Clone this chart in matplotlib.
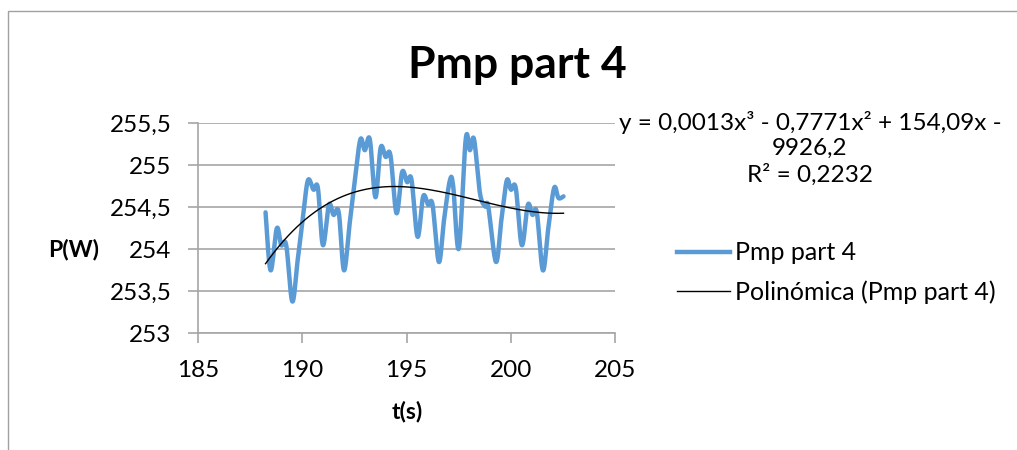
import numpy as np
import matplotlib.pyplot as plt
from matplotlib.patches import Rectangle
from matplotlib.lines import Line2D
from matplotlib.ticker import FuncFormatter

plt.rcParams['font.family'] = ['Lato', 'DejaVu Sans']

# data
t = [188.24, 188.48, 188.78, 188.99, 189.23, 189.52, 189.77, 190.02, 190.27,
     190.54, 190.75, 190.99, 191.28, 191.5, 191.75, 192.0, 192.27, 192.53,
     192.79, 193.0, 193.24, 193.51, 193.76, 194.0, 194.23, 194.52, 194.79,
     195.03, 195.24, 195.53, 195.8, 196.04, 196.25, 196.55, 196.8, 197.08,
     197.24, 197.51, 197.84, 198.04, 198.24, 198.52, 198.77, 198.92, 199.29,
     199.55, 199.81, 200.01, 200.24, 200.53, 200.82, 201.04, 201.25, 201.54,
     201.8, 202.08, 202.29, 202.53]
p = [254.44, 253.75, 254.25, 254.05, 254.05, 253.38, 253.85, 254.35, 254.82,
     254.71, 254.73, 254.05, 254.53, 254.41, 254.44, 253.75, 254.3, 254.85,
     255.31, 255.18, 255.31, 254.62, 255.21, 255.10, 255.12, 254.43, 254.92,
     254.80, 254.83, 254.15, 254.63, 254.53, 254.53, 253.85, 254.35, 254.82,
     254.75, 254.01, 255.31, 255.18, 255.31, 254.67, 254.51, 254.51, 253.85,
     254.35, 254.82, 254.71, 254.73, 254.05, 254.53, 254.41, 254.44, 253.75,
     254.25, 254.73, 254.61, 254.63]

series_name = 'Pmp part 4'
trend_name = 'Polinómica (Pmp part 4)'
eq_text = 'y = 0,0013x³ - 0,7771x² + 154,09x -\n9926,2\nR² = 0,2232'


def smooth(x, y, n=20):
    # Excel-style smoothed line (Catmull-Rom Bezier)
    x = np.asarray(x); y = np.asarray(y)
    xp = np.concatenate([[x[0]], x, [x[-1]]])
    yp = np.concatenate([[y[0]], y, [y[-1]]])
    s = np.linspace(0, 1, n)[:, None]
    xs, ys = [], []
    for i in range(1, len(xp) - 2):
        p0 = np.array([xp[i], yp[i]]); p3 = np.array([xp[i + 1], yp[i + 1]])
        p1 = p0 + (np.array([xp[i + 1], yp[i + 1]]) - np.array([xp[i - 1], yp[i - 1]])) / 6
        p2 = p3 - (np.array([xp[i + 2], yp[i + 2]]) - np.array([xp[i], yp[i]])) / 6
        b = (1 - s) ** 3 * p0 + 3 * (1 - s) ** 2 * s * p1 + 3 * (1 - s) * s ** 2 * p2 + s ** 3 * p3
        xs.append(b[:, 0]); ys.append(b[:, 1])
    return np.concatenate(xs), np.concatenate(ys)


fig = plt.figure(figsize=(10.17, 4.5), dpi=100)
fig.patches.append(Rectangle((8 / 1017, -0.1), 1.2, 1 - 11 / 450 + 0.1,
                             transform=fig.transFigure, fill=False,
                             edgecolor='#a0a0a0', lw=1))

ax = fig.add_axes([198 / 1017, 1 - 333.3 / 450, 417 / 1017, 210 / 450])
ax.set_xlim(185, 205)
ax.set_ylim(253, 255.5)
ax.set_xticks(np.arange(185, 206, 5))
ax.set_yticks(np.arange(253, 255.51, 0.5))
ax.yaxis.set_major_formatter(FuncFormatter(lambda v, _: ('%g' % v).replace('.', ',')))
ax.grid(axis='y', color='#a6a6a6', lw=1.2)
ax.set_axisbelow(True)
for s in ['top', 'right']:
    ax.spines[s].set_visible(False)
for s in ['left', 'bottom']:
    ax.spines[s].set_color('#a6a6a6')
    ax.spines[s].set_linewidth(1.2)
ax.tick_params(colors='#a6a6a6', labelcolor='black', labelsize=17.5, length=7, width=1.2)
ax.tick_params(axis='y', pad=12)
ax.tick_params(axis='x', pad=12)

sx, sy = smooth(t, p)
ax.plot(sx, sy, color='#5b9bd5', lw=3.2, solid_capstyle='round', zorder=3)

coef = np.polyfit(t, p, 3)
tt = np.linspace(t[0], t[-1], 200)
ax.plot(tt, np.polyval(coef, tt), color='black', lw=1, zorder=4)

fig.text(517 / 1017, 1 - 65 / 450, series_name, ha='center', va='center',
         fontsize=32, fontweight='bold')
fig.text(74 / 1017, 1 - 250 / 450, 'P(W)', ha='center', va='center',
         fontsize=16.5, fontweight='bold')
fig.text(407 / 1017, 1 - 411 / 450, 't(s)', ha='center', va='center',
         fontsize=16.5, fontweight='bold')
fig.text(810 / 1017, 1 - 148 / 450, eq_text, ha='center', va='center',
         fontsize=17.5, linespacing=1.25)

fig.add_artist(Line2D([677 / 1017, 730 / 1017], [1 - 252 / 450] * 2,
                      color='#5b9bd5', lw=3.2, transform=fig.transFigure))
fig.add_artist(Line2D([677 / 1017, 730 / 1017], [1 - 291 / 450] * 2,
                      color='black', lw=1, transform=fig.transFigure))
fig.text(735 / 1017, 1 - 252 / 450, series_name, ha='left', va='center', fontsize=18)
fig.text(735 / 1017, 1 - 292 / 450, trend_name, ha='left', va='center', fontsize=18)

fig.savefig('out.png', dpi=100)
